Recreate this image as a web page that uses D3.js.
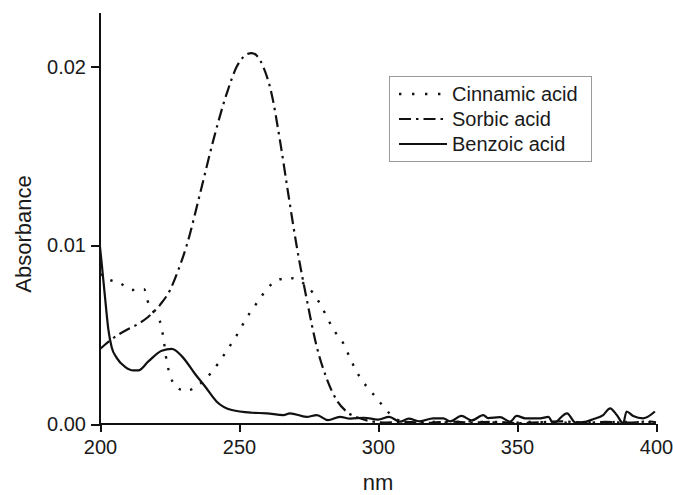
<!DOCTYPE html>
<html><head><meta charset="utf-8">
<script src="https://cdn.jsdelivr.net/npm/d3@7"></script>
<style>body{margin:0;background:#fff}svg{display:block}text{font-family:"Liberation Sans",Arial,sans-serif;fill:#1a1a1a}</style>
</head><body><svg id="c" width="673" height="495"></svg>
<script>
// ---- data ----
const seriesNames = ["Cinnamic acid", "Sorbic acid", "Benzoic acid"];
const xTicks = [200, 250, 300, 350, 400];
const yTicks = [0.00, 0.01, 0.02];
const yTickLabels = ["0.00", "0.01", "0.02"];

const cinnamicX = [200,203,207,211.7,215.9,217.1,220,222,222.8,224,225.2,227,230.8,235.4,239.6,242.8,245.9,248.8,251.3,254,257,260,264.7,268.9,273.1,276.7,279.7,282.1,284.5,287.5,289.6,291.7,294.1,297.1,300.5,304.1,308,312,318,325,332,340,348,356,364,372,380,388,396,400];
const cinnamicY = [0.0084,0.0081,0.0079,0.0075,0.00755,0.0069,0.0061,0.00555,0.0048,0.0035,0.00275,0.00213,0.00185,0.00218,0.0028,0.00345,0.00418,0.00486,0.00555,0.00624,0.0069,0.00755,0.0081,0.00816,0.00788,0.00732,0.00657,0.00583,0.00517,0.00452,0.00381,0.00312,0.00246,0.0019,0.00125,0.0006,0.00018,0.0001,0.00012,0.00008,0.00015,0.0001,0.00006,0.00012,0.00005,0.0001,0.00008,0.00012,0.0001,0.00015];

const sorbicX = [200,203,206.6,210,213.2,217.4,221.6,225.2,228.2,231.2,236,240.8,245.6,249.2,252,254.6,256.5,258.7,261.7,264.7,267.7,270.7,274.4,278,281.5,285.1,288.7,293.5,298.3,303,310,318,326,334,342,350,358,366,374,382,390,398,400];
const sorbicY = [0.0042,0.0046,0.0050,0.0053,0.00555,0.006,0.00667,0.0075,0.00863,0.0100,0.0129,0.0159,0.0185,0.0200,0.0206,0.02076,0.0206,0.0200,0.0185,0.0159,0.0129,0.0100,0.00695,0.00430,0.00256,0.00134,0.00069,0.00032,0.00013,0.00008,0.00012,0.00006,0.00014,0.00008,0.00012,0.00005,0.0001,0.00015,0.00006,0.00012,0.00008,0.00014,0.0001];

const benzoicX = [200,200.6,201.8,203,204.2,206,209,212,213.8,217.4,222.2,225.8,229.4,234.2,237.8,242,247.4,254.5,260,266,268.3,274.3,278,282,286.3,290,295,300,304,307.9,311,315,319.9,323.5,326,330,333.7,337.9,339.6,343.9,347.5,349.9,353,358.3,361.3,363,368,371,375,377.4,381,383.5,385.9,388.2,389.4,391.8,395.4,399.6];
const benzoicY = [0.0099,0.0090,0.0071,0.0053,0.0043,0.0037,0.0032,0.0030,0.0030,0.0035,0.0041,0.0042,0.0038,0.0028,0.0021,0.00125,0.00078,0.00063,0.0006,0.0005,0.0006,0.0004,0.0005,0.00022,0.0004,0.0003,0.00035,0.00025,0.0004,0.00013,0.0003,0.00015,0.00032,0.00032,0.00015,0.00045,0.0002,0.0005,0.00033,0.00038,0.00013,0.00045,0.00032,0.00032,0.0004,0.00004,0.0006,0.00008,0.00014,0.00027,0.0005,0.00088,0.0005,0.00004,0.0007,0.00045,0.00032,0.0007];

// ---- layout ----
const svg = d3.select("#c");
const x = d3.scaleLinear().domain([200, 400]).range([100, 656]);
const y = d3.scaleLinear().domain([0, 0.023]).range([424, 13]);
const ink = "#111";

const line = d3.line().x(d => x(d[0])).y(d => y(d[1])).curve(d3.curveMonotoneX);
const zip = (a, b) => a.map((v, i) => [v, b[i]]);

const styles = [
  {dash: "2.4,9.6", w: 2.4},
  {dash: "12,5,2.5,5", w: 2.2},
  {dash: null, w: 2.2}
];
const data = [zip(cinnamicX, cinnamicY), zip(sorbicX, sorbicY), zip(benzoicX, benzoicY)];

data.forEach((d, i) => {
  svg.append("path").attr("d", line(d)).attr("fill", "none")
    .attr("stroke", ink).attr("stroke-width", styles[i].w)
    .attr("stroke-dasharray", styles[i].dash);
});

// axes
const xAxis = d3.axisBottom(x).tickValues(xTicks).tickSize(8).tickPadding(8).tickFormat(d3.format("d"));
const gx = svg.append("g").attr("transform", "translate(0,424)").call(xAxis);
gx.select(".domain").attr("d", "M100,0H656").attr("stroke", ink).attr("stroke-width", 2);
gx.selectAll(".tick line").attr("stroke", ink).attr("stroke-width", 2);
gx.selectAll("text").attr("font-size", 20).attr("fill", "#1a1a1a");

const yAxis = d3.axisLeft(y).tickValues(yTicks).tickSize(9).tickPadding(5).tickFormat((d, i) => yTickLabels[i]);
const gy = svg.append("g").attr("transform", "translate(100,0)").call(yAxis);
gy.select(".domain").attr("d", "M0,13V424").attr("stroke", ink).attr("stroke-width", 2);
gy.selectAll(".tick line").attr("stroke", ink).attr("stroke-width", 2);
gy.selectAll("text").attr("font-size", 20).attr("fill", "#1a1a1a");
svg.selectAll(".domain,.tick line").attr("shape-rendering", "crispEdges");

// axis titles
svg.append("text").attr("x", 378).attr("y", 490).attr("text-anchor", "middle").attr("font-size", 22).text("nm");
svg.append("text").attr("transform", "translate(31,234) rotate(-90)").attr("text-anchor", "middle").attr("font-size", 22).text("Absorbance");

// legend
const lg = svg.append("g");
lg.append("rect").attr("x", 389.5).attr("y", 76.5).attr("width", 202).attr("height", 85)
  .attr("fill", "#fff").attr("stroke", "#999").attr("stroke-width", 1);
const rowY = [94, 119, 144];
seriesNames.forEach((n, i) => {
  lg.append("line").attr("x1", 399).attr("x2", 447).attr("y1", rowY[i]).attr("y2", rowY[i])
    .attr("stroke", ink).attr("stroke-width", styles[i].w).attr("stroke-dasharray", i === 0 ? "2.4,10.6" : styles[i].dash);
  lg.append("text").attr("x", 452).attr("y", rowY[i] + 7).attr("font-size", 20).text(n);
});
</script></body></html>
